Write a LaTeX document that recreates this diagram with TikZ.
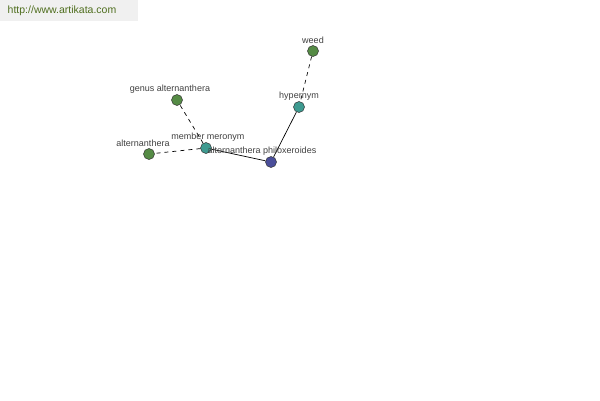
\documentclass[tikz,border=0pt]{standalone}
\usepackage{fontspec}
\setmainfont{Liberation Sans}
\definecolor{gnode}{HTML}{558B45}
\definecolor{tnode}{HTML}{3E9A90}
\definecolor{bnode}{HTML}{4A4E9A}
\definecolor{sitec}{HTML}{4F6E1E}
\begin{document}
\begin{tikzpicture}[x=1pt,y=-1pt,
  dot/.style={circle,draw=black!80,line width=0.5pt,minimum size=11pt,inner sep=0pt},
  gdot/.style={dot,fill=gnode},
  tdot/.style={dot,fill=tnode},
  bdot/.style={dot,fill=bnode},
  lbl/.style={font=\fontsize{9}{10}\selectfont,text=black!75,inner sep=0pt},
  rel/.style={line width=0.7pt},
  drel/.style={rel,dash pattern=on 4pt off 4pt}]
\useasboundingbox (0,0) rectangle (600,400);
\fill[black!6] (0,0) rectangle (138,21);
\node[font=\fontsize{10.5}{11}\selectfont,text=sitec] (site) at (62,11) {http://www.artikata.com};
\node[gdot] (weed) at (313,51) {};
\node[tdot] (hyp) at (299,107) {};
\node[gdot] (genus) at (177,100) {};
\node[tdot] (mem) at (206,148) {};
\node[gdot] (alt) at (149,154) {};
\node[bdot] (phil) at (271,162) {};
\draw[drel] (weed) -- (hyp);
\draw[rel] (hyp) -- (phil);
\draw[rel] (phil) -- (mem);
\draw[drel] (mem) -- (alt);
\draw[drel] (mem) -- (genus);
\node[lbl] (lweed) at (313,40) {weed};
\node[lbl] (lhyp) at (299,96) {hypernym};
\node[lbl] (lgenus) at (170,89) {genus alternanthera};
\node[lbl] (lmem) at (208,137) {member meronym};
\node[lbl] (lalt) at (143,143) {alternanthera};
\node[lbl] (lphil) at (262,151) {alternanthera philoxeroides};
\end{tikzpicture}
\end{document}
